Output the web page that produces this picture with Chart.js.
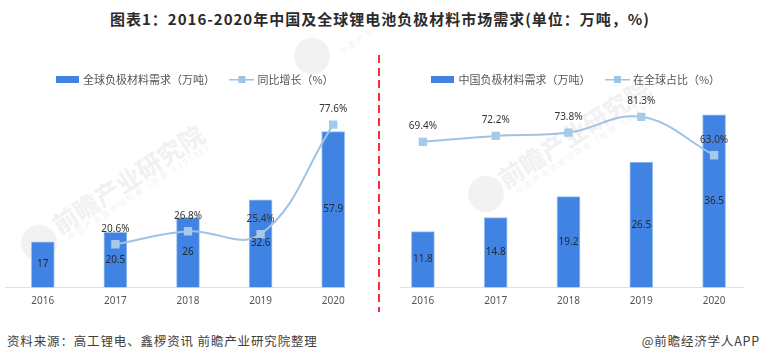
<!DOCTYPE html>
<html lang="zh-CN">
<head>
  <meta charset="UTF-8">
  <title>2016-2020年中国及全球锂电池负极材料市场需求</title>
  <script src="https://cdn.jsdelivr.net/npm/chart.js"></script>
  <style>
    html, body { margin: 0; padding: 0; background: #fff; }
    body { width: 760px; height: 362px; position: relative; overflow: hidden; font-family: "Noto Sans CJK SC", "Noto Sans", sans-serif; }
    #title { position: absolute; left: 0; width: 760px; top: 7px; text-align: center; font-size: 15px; line-height: 24px; font-weight: bold; color: #2b2b2b; letter-spacing: 1px; white-space: nowrap; }
    #source { position: absolute; left: 7px; top: 332px; font-size: 12.5px; line-height: 18px; color: #404040; letter-spacing: 0.85px; white-space: nowrap; }
    #credit { position: absolute; right: 0; top: 332px; font-size: 12.5px; line-height: 18px; color: #404040; letter-spacing: 0.8px; white-space: nowrap; }
    #divider { position: absolute; left: 378px; top: 55px; width: 2px; height: 257px; background: repeating-linear-gradient(to bottom, #ff2a3a 0 8px, transparent 8px 12.6px); }
    .wrap { position: absolute; top: 50px; width: 380px; height: 277px; }
    .axisline { position: absolute; top: 287px; height: 1px; background: #dcdfe3; }
    .wm { position: absolute; color: #f1f1f1; font-weight: bold; font-size: 25px; white-space: nowrap; transform: rotate(-33deg); transform-origin: left center; }
    .wm2 { position: absolute; color: #f3f3f3; font-size: 8px; letter-spacing: 2px; white-space: nowrap; transform: rotate(-33deg); transform-origin: left center; }
    .logo { position: absolute; width: 36px; height: 36px; border-radius: 50%; background: #f2f2f2; }
  </style>
</head>
<body>
  <div class="logo" style="left:21px;top:225px"></div>
  <div class="wm" style="left:54px;top:208px">前瞻产业研究院</div>
  <div class="wm2" style="left:68px;top:232px">中国产业咨询领导者（股票.839599）</div>
  <div class="logo" style="left:294px;top:38px"></div>
  <div class="wm2" style="left:340px;top:46px">中国产业</div>
  <div class="logo" style="left:468px;top:176px"></div>
  <div class="wm" style="left:500px;top:162px">前瞻产业研究院</div>
  <div class="wm2" style="left:516px;top:186px">中国产业咨询领导者（股票.839599）</div>

  <div id="title">图表1：2016-2020年中国及全球锂电池负极材料市场需求(单位：万吨，%)</div>
  <div id="divider"></div>
  <div class="axisline" style="left:5px;width:341px"></div>
  <div class="axisline" style="left:400px;width:344px"></div>
  <div class="wrap" style="left:0"><canvas id="leftChart" width="380" height="277"></canvas></div>
  <div class="wrap" style="left:380px"><canvas id="rightChart" width="380" height="277"></canvas></div>
  <div id="source">资料来源：高工锂电、鑫椤资讯 前瞻产业研究院整理</div>
  <div id="credit">@前瞻经济学人APP</div>

  <script>
    const years = ["2016", "2017", "2018", "2019", "2020"];
    const globalDemand = [17, 20.5, 26, 32.6, 57.9];
    const globalGrowth = [null, 20.6, 26.8, 25.4, 77.6];
    const chinaDemand = [11.8, 14.8, 19.2, 26.5, 36.5];
    const chinaShare = [69.4, 72.2, 73.8, 81.3, 63.0];

    const barColor = "#4083e2";
    const barEdge = "#9cc3f0";
    const lineColor = "#9dc3e6";
    const labelFont = '10px "Noto Sans", "Noto Sans CJK SC", sans-serif';

    function barIcon() {
      const c = document.createElement("canvas");
      c.width = 23; c.height = 7;
      const g = c.getContext("2d");
      g.fillStyle = barColor;
      g.fillRect(0, 0, 23, 7);
      return c;
    }

    function lineIcon() {
      const c = document.createElement("canvas");
      c.width = 25; c.height = 7;
      const g = c.getContext("2d");
      g.fillStyle = lineColor;
      g.fillRect(0, 3, 25, 1.5);
      g.fillRect(9, 0, 7, 7);
      return c;
    }

    // value labels: bars get theirs in the middle, the line above each point
    const valueLabels = {
      id: "valueLabels",
      afterDatasetsDraw(chart) {
        const ctx = chart.ctx;
        ctx.save();
        ctx.font = labelFont;
        ctx.textAlign = "center";
        ctx.textBaseline = "middle";
        chart.getDatasetMeta(0).data.forEach((bar, i) => {
          ctx.fillStyle = "#1f2733";
          ctx.fillText(String(chart.data.datasets[0].data[i]), bar.x, (bar.y + bar.base) / 2);
        });
        chart.getDatasetMeta(1).data.forEach((pt, i) => {
          const v = chart.data.datasets[1].data[i];
          if (v === null) return;
          ctx.fillStyle = "#333333";
          ctx.fillText(v.toFixed(1) + "%", pt.x, pt.y - 15.5);
        });
        ctx.restore();
      }
    };

    // chart.js centres the legend a little left of the middle, push it back
    const legendNudge = {
      id: "legendNudge",
      afterLayout(chart) {
        chart.legend.left += 8.5;
        chart.legend.right += 8.5;
      }
    };

    function makeChart(id, barName, barData, lineName, lineData, padLeft, padRight, barMax, lineMax) {
      const icons = [barIcon(), lineIcon()];
      return new Chart(document.getElementById(id), {
        type: "bar",
        data: {
          labels: years,
          datasets: [
            { type: "bar", label: barName, data: barData, yAxisID: "y", order: 2,
              backgroundColor: barColor, borderColor: barEdge, borderWidth: 1, barThickness: 23 },
            { type: "line", label: lineName, data: lineData, yAxisID: "y1", order: 1,
              borderColor: lineColor, borderWidth: 2, tension: 0.4, spanGaps: false,
              pointStyle: "rect", pointRadius: 4.5, pointBackgroundColor: "#a6c9e8", pointBorderColor: "#a6c9e8" }
          ]
        },
        options: {
          responsive: false,
          animation: false,
          layout: { padding: { left: padLeft, right: padRight, top: 7, bottom: 11.5 } },
          plugins: {
            tooltip: { enabled: false },
            legend: {
              position: "top",
              labels: {
                usePointStyle: true,
                pointStyleWidth: 20,
                padding: 17,
                color: "#555555",
                font: { size: 11, family: '"Noto Sans CJK SC", sans-serif' },
                sort: (a, b) => a.datasetIndex - b.datasetIndex,
                generateLabels: chart => Chart.defaults.plugins.legend.labels.generateLabels(chart)
                  .map(item => ({ ...item, pointStyle: icons[item.datasetIndex] }))
              }
            }
          },
          scales: {
            x: {
              grid: { display: false, drawTicks: false },
              border: { display: false },
              ticks: { color: "#555555", padding: 8, font: { size: 10, family: '"Noto Sans", sans-serif' } }
            },
            y: { display: false, min: 0, max: barMax },
            y1: { display: false, min: 0, max: lineMax }
          }
        },
        plugins: [valueLabels, legendNudge]
      });
    }

    makeChart("leftChart", "全球负极材料需求（万吨）", globalDemand, "同比增长（%）", globalGrowth, 4.5, 10.5, 71.5, 91.7);
    makeChart("rightChart", "中国负极材料需求（万吨）", chinaDemand, "在全球占比（%）", chinaShare, 5.5, 9.5, 40.7, 91.7);
  </script>
</body>
</html>
